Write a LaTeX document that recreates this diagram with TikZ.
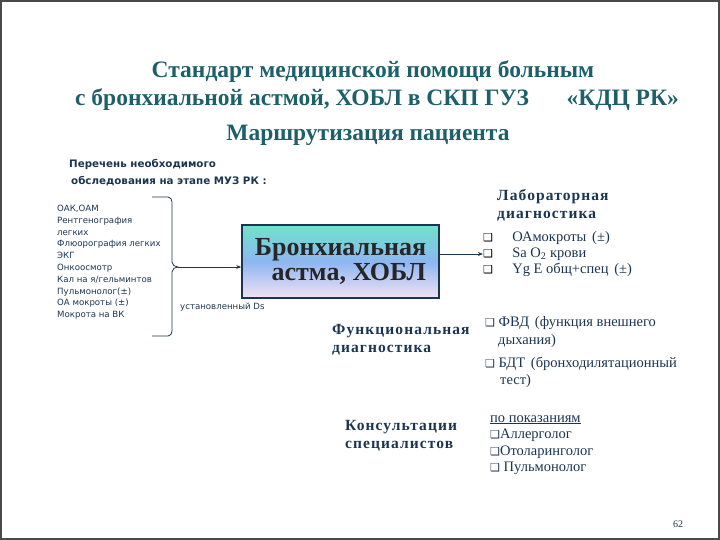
\documentclass[tikz,border=0pt]{standalone}
\usepackage{fontspec}
\setmainfont{Liberation Serif}
\newfontfamily\sansf{DejaVu Sans}
\newfontfamily\symf{DejaVu Sans}
\newfontfamily\sectf[LetterSpace=7]{Liberation Serif}
\usepackage{tikz}
\usetikzlibrary{arrows.meta, positioning, calc}
\definecolor{sltitle}{HTML}{1E5F6A}
\definecolor{slnavy}{HTML}{1B3550}
\definecolor{slframe}{HTML}{4A4A4A}
\definecolor{sltop}{HTML}{6FE3C9}
\definecolor{slmid}{HTML}{8DB6F2}
\definecolor{slbot}{HTML}{F2E2F2}
\newcommand{\chk}{{\symf\fontsize{11}{11}\selectfont ❑}}

\begin{document}
\begin{tikzpicture}[
      x=1pt, y=-1pt,
      ttl/.style={font=\bfseries\fontsize{23.5}{28}\selectfont, text=sltitle, inner sep=0pt},
      hdr/.style={font=\sansf\bfseries\fontsize{10.3}{17}\selectfont, text=slnavy, align=left, inner sep=0pt, anchor=north west},
      lst/.style={font=\sansf\fontsize{8.6}{11.8}\selectfont, text=slnavy, align=left, inner sep=0pt, anchor=north west},
      sect/.style={font=\sectf\bfseries\fontsize{15.5}{18}\selectfont, text=slnavy, align=left, inner sep=0pt, anchor=north west},
      item/.style={font=\fontsize{14.5}{16.5}\selectfont, text=slnavy, align=left, inner sep=0pt, anchor=west},
      e/.style={thick, slnavy},
      ea/.style={thick, slnavy, -{Stealth[length=5pt, width=4pt]}}
    ]
      \useasboundingbox (0,0) rectangle (720,540);
      \draw[slframe, line width=1.5pt] (1,1) rectangle (719,539);

      \node[ttl] (t1) at (373,72) {Стандарт медицинской помощи больным};
      \node[ttl] (t2) at (377,100) {с бронхиальной астмой, ХОБЛ в СКП ГУЗ\hspace{1.6em}«КДЦ РК»};
      \node[ttl] (t3) at (368,135) {Маршрутизация пациента};

      \node[hdr] (hdr) at (69,159) {Перечень необходимого\\\hspace{2pt}обследования на этапе МУЗ РК :};
      \node[lst] (exams) at (57,205) {ОАК,ОАМ\\Рентгенография\\легких\\Флюорография легких\\ЭКГ\\Онкоосмотр\\Кал на я/гельминтов\\Пульмонолог(±)\\ОА мокроты (±)\\Мокрота на ВК};

      \draw[e] (152,197) -- (168,197) to[out=0, in=90] (172,202) -- (172,262)
        to[out=-90, in=180] (178,267) coordinate (tip) to[out=180, in=90] (172,272)
        -- (172,331) to[out=-90, in=0] (168,336) -- (152,336);

      \node[draw=slnavy, line width=1.6pt, top color=sltop, bottom color=slbot, middle color=slmid,
        minimum width=197pt, minimum height=73pt, inner sep=0pt,
        font=\bfseries\fontsize{26}{25}\selectfont, text=black!85, align=right] (main) at (340.5,261.5)
        {Бронхиальная\\астма, ХОБЛ};
      \draw[ea] (tip) -- (tip -| main.west);
      \node[lst, anchor=west] (ds) at (180,307) {установленный Ds};

      \node[sect] (lab) at (497,189) {Лабораторная\\диагностика};
      \node[inner sep=0pt] (c1) at (488,238) {\chk};
      \node[inner sep=0pt] (c2) at (488,254) {\chk};
      \node[inner sep=0pt] (c3) at (488,270) {\chk};
      \node[item, right=19pt of c1] (l1) {ОАмокроты\hspace{0.4em}(±)};
      \node[item, right=19pt of c2] (l2) {Sa O\textsubscript{2} крови};
      \node[item, right=19pt of c3] (l3) {Yg E общ+спец\hspace{0.4em}(±)};
      \draw[ea] (main.east |- c2) -- (c2.west);

      \node[sect] (func) at (332,324) {Функциональная\\диагностика};
      \node[item, anchor=north west, font=\fontsize{14.5}{18}\selectfont] (fvd) at (485,316) {\chk\ ФВД\hspace{0.4em}(функция внешнего\\\hspace{13pt}дыхания)};
      \node[item, anchor=north west] (bdt) at (485,357) {\chk\ БДТ\hspace{0.4em}(бронходилятационный\\\hspace{15pt}тест)};

      \node[sect] (cons) at (345,420) {Консультации\\специалистов};
      \node[item, anchor=north west] (spec) at (490,415) {\underline{по показаниям}\\\chk Аллерголог\\\chk Отоларинголог\\\chk\ Пульмонолог};

      \node[font=\fontsize{10}{12}\selectfont, text=slnavy] (pg) at (678,524) {62};
    \end{tikzpicture}
\end{document}
